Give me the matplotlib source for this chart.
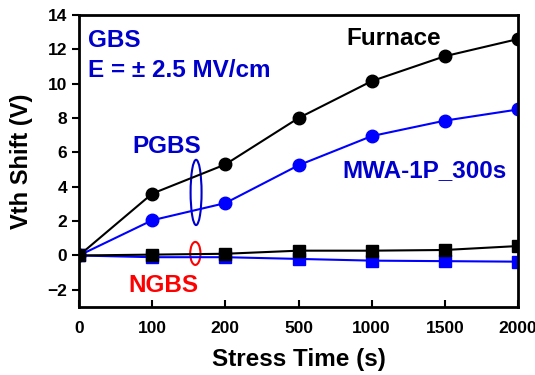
import numpy as np
import matplotlib
matplotlib.use("Agg")
from matplotlib import pyplot as plt
from matplotlib.patches import Ellipse

plt.rcParams['font.family'] = ['Liberation Sans', 'DejaVu Sans']
plt.rcParams['font.weight'] = 'bold'

# stress times (categorical, equally spaced on the plot)
time_labels = ['0', '100', '200', '500', '1000', '1500', '2000']

# PGBS
furnace_pgbs = [0, 3.6, 5.3, 8.0, 10.15, 11.6, 12.6]
mwa_pgbs = [0, 2.05, 3.05, 5.25, 6.95, 7.85, 8.5]
# NGBS
furnace_ngbs = [0, 0.05, 0.1, 0.28, 0.28, 0.32, 0.55]
mwa_ngbs = [0, -0.1, -0.1, -0.2, -0.3, -0.33, -0.36]

blue_txt = '#0000cc'
x = np.arange(len(time_labels))

fig = plt.figure(figsize=(5.35, 3.75), dpi=100)
ax = fig.add_axes([0.1477, 0.1813, 0.8205, 0.7787])

ax.plot(x, mwa_ngbs, color='blue', marker='s', markersize=8, lw=1.5)
ax.plot(x, furnace_ngbs, color='black', marker='s', markersize=8, lw=1.5)
ax.plot(x, mwa_pgbs, color='blue', marker='o', markersize=9, lw=1.5)
ax.plot(x, furnace_pgbs, color='black', marker='o', markersize=9, lw=1.5)

ax.set_xlim(0, 6)
ax.set_ylim(-3, 14)
ax.set_xticks(x)
ax.set_xticklabels(time_labels)
ax.set_yticks(np.arange(-2, 15, 2))
ax.tick_params(axis='x', direction='in', length=5, width=1.5, labelsize=12.5, pad=10)
ax.tick_params(axis='y', direction='out', length=5, width=1.5, labelsize=12.5)
for lab in ax.get_xticklabels() + ax.get_yticklabels():
    lab.set_fontweight('bold')
for sp in ax.spines.values():
    sp.set_linewidth(2)

ax.set_xlabel('Stress Time (s)', fontsize=17.5, fontweight='bold', labelpad=9)
ax.set_ylabel('Vth Shift (V)', fontsize=17, fontweight='bold', labelpad=10)

ax.text(0.12, 12.14, 'GBS', color=blue_txt, fontsize=17.5, fontweight='bold')
ax.text(0.12, 10.4, 'E = \u00b1 2.5 MV/cm', color=blue_txt, fontsize=17.5, fontweight='bold')
ax.text(3.65, 12.25, 'Furnace', color='black', fontsize=17.5, fontweight='bold')
ax.text(3.6, 4.59, 'MWA-1P_300s', color=blue_txt, fontsize=17.5, fontweight='bold')
ax.text(0.73, 5.97, 'PGBS', color=blue_txt, fontsize=17.5, fontweight='bold')
ax.text(0.67, -2.13, 'NGBS', color='red', fontsize=17.5, fontweight='bold')

ax.add_patch(Ellipse((1.6, 3.67), 0.15, 3.8, fill=False, edgecolor=blue_txt, lw=1.5))
ax.add_patch(Ellipse((1.59, 0.12), 0.14, 1.34, fill=False, edgecolor='red', lw=1.5))

fig.savefig('out.png', dpi=100)
